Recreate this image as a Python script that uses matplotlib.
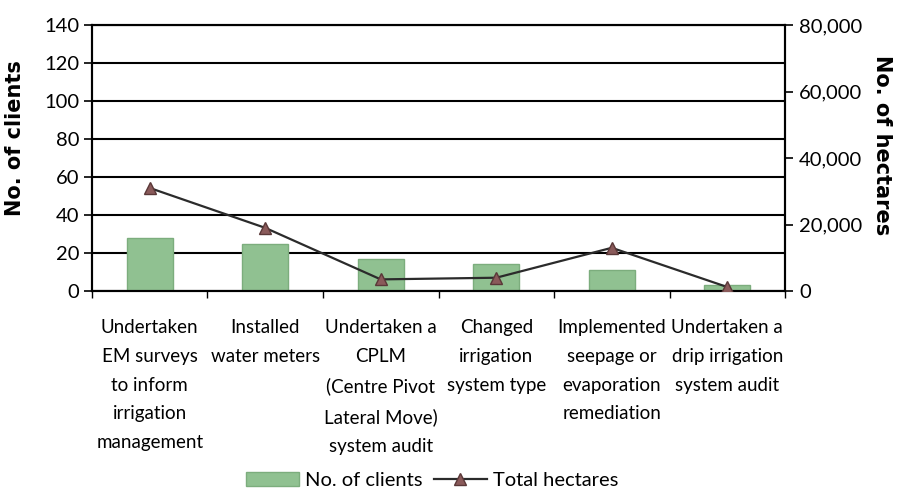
import matplotlib
matplotlib.use("Agg")
import matplotlib.pyplot as plt
from matplotlib.ticker import FuncFormatter, FixedLocator

categories = [
    "Undertaken\nEM surveys\nto inform\nirrigation\nmanagement",
    "Installed\nwater meters",
    "Undertaken a\nCPLM\n(Centre Pivot\nLateral Move)\nsystem audit",
    "Changed\nirrigation\nsystem type",
    "Implemented\nseepage or\nevaporation\nremediation",
    "Undertaken a\ndrip irrigation\nsystem audit",
]
clients = [28, 25, 17, 14, 11, 3]
hectares = [31000, 19000, 3500, 4000, 13000, 1200]

bar_color = "#90c191"
bar_edge = "#7cad7d"
line_color = "#2b2b2b"
marker_color = "#8a5a5a"

plt.rcParams["font.family"] = ["Lato", "DejaVu Sans"]

fig = plt.figure(figsize=(9.06, 4.92), dpi=100)
ax = fig.add_axes([0.1015, 0.4085, 0.765, 0.5405])
ax2 = ax.twinx()

x = list(range(len(categories)))
bars = ax.bar(x, clients, width=0.4, color=bar_color, edgecolor=bar_edge,
              linewidth=1, label="No. of clients", zorder=2)
line, = ax2.plot(x, hectares, color=line_color, lw=1.6, marker="^",
                 markersize=9, markerfacecolor=marker_color,
                 markeredgecolor="#5a3838", label="Total hectares", zorder=3)

ax.set_xlim(-0.5, len(categories) - 0.5)
ax.set_ylim(0, 140)
ax.set_yticks(range(0, 141, 20))
ax2.set_ylim(0, 80000)
ax2.set_yticks(range(0, 80001, 20000))
ax2.yaxis.set_major_formatter(FuncFormatter(lambda v, p: "{:,.0f}".format(v)))

# gridlines
ax.grid(axis="y", color="black", lw=1.5, zorder=1)
ax.set_axisbelow(True)

# category labels and boundary ticks
ax.set_xticks(x)
ax.set_xticklabels(categories, fontsize=13.5, linespacing=1.85)
ax.tick_params(axis="x", length=0, pad=20)
ax.xaxis.set_minor_locator(FixedLocator([i - 0.5 for i in range(len(categories) + 1)]))
ax.tick_params(axis="x", which="minor", length=5, width=1, direction="out")

ax.tick_params(axis="y", labelsize=14.5, length=6, width=1.2, pad=3)
ax2.tick_params(axis="y", labelsize=14.5, length=6, width=1.2, pad=4)

for a in (ax, ax2):
    for s in a.spines.values():
        s.set_color("black")
        s.set_linewidth(1.5)

ax.set_ylabel("No. of clients", fontsize=15, fontweight="bold",
              family="DejaVu Sans")
ax.yaxis.set_label_coords(-0.097, 0.575)
ax2.set_ylabel("No. of hectares", fontsize=15, fontweight="bold",
               family="DejaVu Sans", rotation=270, va="center")
ax2.yaxis.set_label_coords(1.14, 0.55)

fig.legend([bars, line], ["No. of clients", "Total hectares"],
           loc="center", bbox_to_anchor=(0.477, 0.024), ncol=2, frameon=False,
           fontsize=14.5, handlelength=2.6, handletextpad=0.3, columnspacing=0.6)

fig.savefig("out.png", dpi=100)
